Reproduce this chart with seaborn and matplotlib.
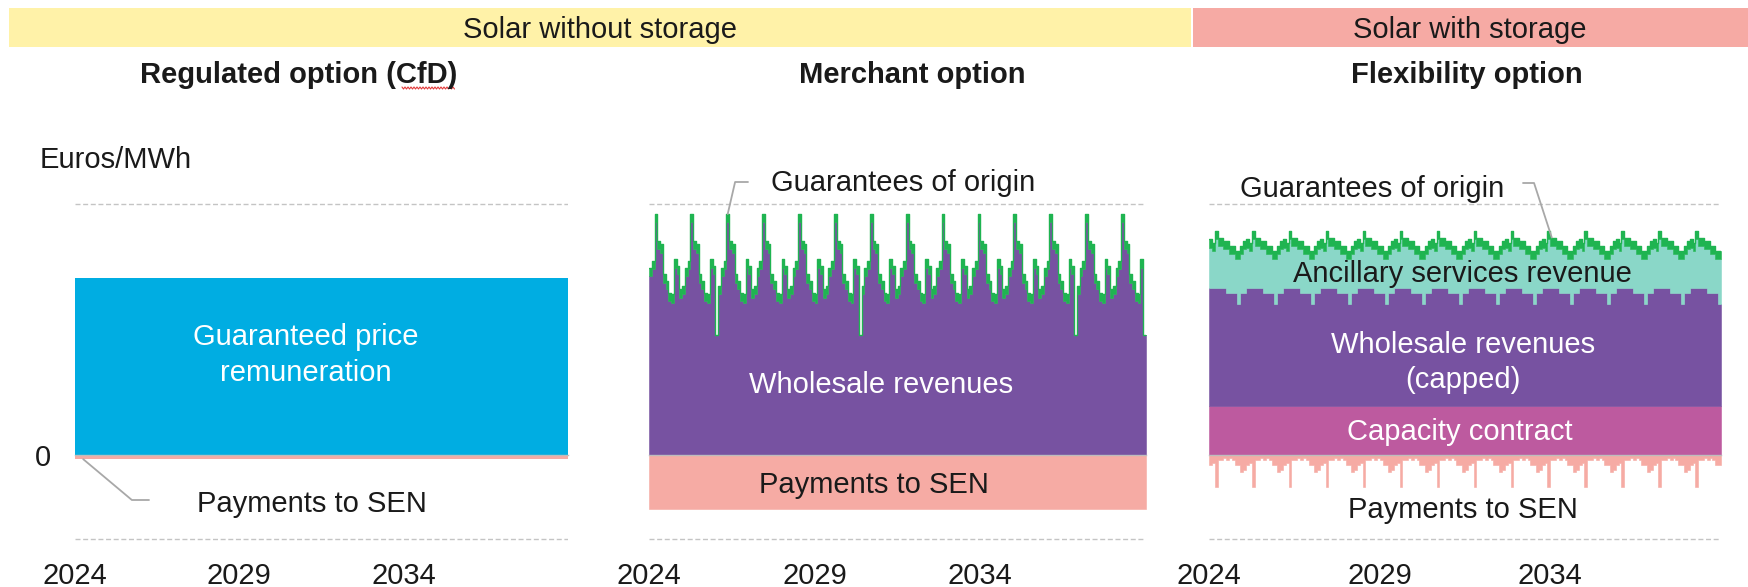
import numpy as np
import matplotlib
matplotlib.use("Agg")
import matplotlib.pyplot as plt
from matplotlib.lines import Line2D
from matplotlib.patches import Rectangle
import seaborn as sns

# ---------------------------------------------------------------- data
START_YEAR, END_YEAR = 2024, 2039
YEAR_TICKS = [2024, 2029, 2034]
YEAR_LABELS = ["2024", "2029", "2034"]

# Regulated option (CfD), Euros/MWh
CFD_GUARANTEED_PRICE = 106
CFD_PAYMENTS_SEN = -2.5

# Merchant option, monthly values (one line per 13-month cycle)
MERCHANT_WHOLESALE = [
    107, 111, 139, 123, 121, 103, 99, 92, 91, 112, 108, 94, 96,
    107, 111, 139, 123, 121, 103, 99, 92, 91, 112, 108, 72, 96,
    107, 111, 139, 123, 121, 103, 99, 92, 91, 112, 108, 94, 96,
    107, 111, 139, 123, 121, 103, 99, 92, 91, 112, 108, 94, 96,
    107, 111, 139, 123, 121, 103, 99, 92, 91, 112, 108, 94, 96,
    107, 111, 139, 123, 121, 103, 99, 92, 91, 112, 108, 72, 96,
    107, 111, 139, 123, 121, 103, 99, 92, 91, 112, 108, 94, 96,
    107, 111, 139, 123, 121, 103, 99, 92, 91, 112, 108, 94, 96,
    107, 111, 139, 123, 121, 103, 99, 92, 91, 112, 108, 94, 96,
    107, 111, 139, 123, 121, 103, 99, 92, 91, 112, 108, 94, 96,
    107, 111, 139, 123, 121, 103, 99, 92, 91, 112, 108, 94, 96,
    107, 111, 139, 123, 121, 103, 99, 92, 91, 112, 108, 72, 96,
    107, 111, 139, 123, 121, 103, 99, 92, 91, 112, 108, 94, 96,
    107, 111, 139, 123, 121, 103, 99, 92, 91, 112, 72,
]
MERCHANT_GO = [
    5, 5, 5, 5, 5, 5, 5, 5, 5, 5, 5, 5, 5,
    5, 5, 5, 5, 5, 5, 5, 5, 5, 5, 5, 0, 5,
    5, 5, 5, 5, 5, 5, 5, 5, 5, 5, 5, 5, 5,
    5, 5, 5, 5, 5, 5, 5, 5, 5, 5, 5, 5, 5,
    5, 5, 5, 5, 5, 5, 5, 5, 5, 5, 5, 5, 5,
    5, 5, 5, 5, 5, 5, 5, 5, 5, 5, 5, 0, 5,
    5, 5, 5, 5, 5, 5, 5, 5, 5, 5, 5, 5, 5,
    5, 5, 5, 5, 5, 5, 5, 5, 5, 5, 5, 5, 5,
    5, 5, 5, 5, 5, 5, 5, 5, 5, 5, 5, 5, 5,
    5, 5, 5, 5, 5, 5, 5, 5, 5, 5, 5, 5, 5,
    5, 5, 5, 5, 5, 5, 5, 5, 5, 5, 5, 5, 5,
    5, 5, 5, 5, 5, 5, 5, 5, 5, 5, 5, 0, 5,
    5, 5, 5, 5, 5, 5, 5, 5, 5, 5, 5, 5, 5,
    5, 5, 5, 5, 5, 5, 5, 5, 5, 5, 0,
]
MERCHANT_PAYMENTS_SEN = -32

# Flexibility option (solar with storage), monthly values
FLEX_CAPACITY = 29
FLEX_WHOLESALE_CAPPED = [
    71, 71, 71, 71, 71, 71, 68, 68, 68, 68, 61, 68, 68,
    71, 71, 71, 71, 71, 71, 68, 68, 68, 68, 61, 68, 68,
    71, 71, 71, 71, 71, 71, 68, 68, 68, 68, 61, 68, 68,
    71, 71, 71, 71, 71, 71, 68, 68, 68, 68, 61, 68, 68,
    71, 71, 71, 71, 71, 71, 68, 68, 68, 68, 61, 68, 68,
    71, 71, 71, 71, 71, 71, 68, 68, 68, 68, 61, 68, 68,
    71, 71, 71, 71, 71, 71, 68, 68, 68, 68, 61, 68, 68,
    71, 71, 71, 71, 71, 71, 68, 68, 68, 68, 61, 68, 68,
    71, 71, 71, 71, 71, 71, 68, 68, 68, 68, 61, 68, 68,
    71, 71, 71, 71, 71, 71, 68, 68, 68, 68, 61, 68, 68,
    71, 71, 71, 71, 71, 71, 68, 68, 68, 68, 61, 68, 68,
    71, 71, 71, 71, 71, 71, 68, 68, 68, 68, 61, 68, 68,
    71, 71, 71, 71, 71, 71, 68, 68, 68, 68, 61, 68, 68,
    71, 71, 71, 71, 71, 71, 68, 68, 68, 68, 61,
]
FLEX_ANCILLARY = [
    24, 22, 29, 25, 25, 23, 26, 23, 23, 20, 27, 23, 26,
    24, 22, 29, 25, 25, 23, 26, 23, 23, 20, 27, 23, 26,
    24, 22, 29, 25, 25, 23, 26, 23, 23, 20, 27, 23, 26,
    24, 22, 29, 25, 25, 23, 26, 23, 23, 20, 27, 23, 26,
    24, 22, 29, 25, 25, 23, 26, 23, 23, 20, 27, 23, 26,
    24, 22, 29, 25, 25, 23, 26, 23, 23, 20, 27, 23, 26,
    24, 22, 29, 25, 25, 23, 26, 23, 23, 20, 27, 23, 26,
    24, 22, 29, 25, 25, 23, 26, 23, 23, 20, 27, 23, 26,
    24, 22, 29, 25, 25, 23, 26, 23, 23, 20, 27, 23, 26,
    24, 22, 29, 25, 25, 23, 26, 23, 23, 20, 27, 23, 26,
    24, 22, 29, 25, 25, 23, 26, 23, 23, 20, 27, 23, 26,
    24, 22, 29, 25, 25, 23, 26, 23, 23, 20, 27, 23, 26,
    24, 22, 29, 25, 25, 23, 26, 23, 23, 20, 27, 23, 26,
    24, 22, 29, 25, 25, 23, 26, 23, 23, 20, 27,
]
FLEX_GO = 5
FLEX_PAYMENTS_SEN = [
    -6, -5, -19, -3, -3, -2, -3, -2, -3, -6, -6, -10, -9,
    -6, -5, -19, -3, -3, -2, -3, -2, -3, -6, -6, -10, -9,
    -6, -5, -19, -3, -3, -2, -3, -2, -3, -6, -6, -10, -9,
    -6, -5, -19, -3, -3, -2, -3, -2, -3, -6, -6, -10, -9,
    -6, -5, -19, -3, -3, -2, -3, -2, -3, -6, -6, -10, -9,
    -6, -5, -19, -3, -3, -2, -3, -2, -3, -6, -6, -10, -9,
    -6, -5, -19, -3, -3, -2, -3, -2, -3, -6, -6, -10, -9,
    -6, -5, -19, -3, -3, -2, -3, -2, -3, -6, -6, -10, -9,
    -6, -5, -19, -3, -3, -2, -3, -2, -3, -6, -6, -10, -9,
    -6, -5, -19, -3, -3, -2, -3, -2, -3, -6, -6, -10, -9,
    -6, -5, -19, -3, -3, -2, -3, -2, -3, -6, -6, -10, -9,
    -6, -5, -19, -3, -3, -2, -3, -2, -3, -6, -6, -10, -9,
    -6, -5, -19, -3, -3, -2, -3, -2, -3, -6, -6, -10, -9,
    -6, -5, -19, -3, -3, -2, -3, -2, -3, -6, -6,
]

# ---------------------------------------------------------------- style
C_YELLOW_BAND = "#FFF2A8"
C_PINK_BAND = "#F6AAA4"
C_BLUE = "#00ADE2"
C_PURPLE = "#7752A1"
C_GREEN = "#1FB451"
C_TEAL = "#8AD7C8"
C_MAGENTA = "#BD5A9F"
C_PINK = "#F6ABA4"
C_TEXT = "#1a1a1a"
C_GRID = "#c4c4c4"
C_AXIS = "#bdbdbd"
C_LEADER = "#a8a8a8"

sns.set_theme(style="white")
plt.rcParams["font.family"] = ["Liberation Sans", "DejaVu Sans"]
plt.rcParams["lines.scale_dashes"] = False

W, H, DPI = 1748, 587, 100
FS = 21

fig = plt.figure(figsize=(W / DPI, H / DPI), dpi=DPI)
fig.patch.set_facecolor("white")


def fpos(x, y):
    """Figure fraction from pixel position measured from the top-left."""
    return x / W, 1 - y / H


# value axis: 0 at pixel row 455, 1 unit = 1.673 px
Y_LO, Y_HI = -70, 170
ZERO_PX, UNIT_PX = 455, 1.673
ax_top = ZERO_PX - Y_HI * UNIT_PX
ax_bot = ZERO_PX - Y_LO * UNIT_PX
panels_px = [(75, 568), (649, 1146), (1209, 1721)]
axes = []
for x0, x1 in panels_px:
    ax = fig.add_axes([x0 / W, 1 - ax_bot / H, (x1 - x0) / W, (ax_bot - ax_top) / H])
    ax.set_facecolor("none")
    axes.append(ax)

n_months = len(MERCHANT_WHOLESALE)
x_edges = START_YEAR + np.arange(n_months + 1) / 12.0
x_mid = START_YEAR + (np.arange(n_months) + 0.5) / 12.0


def ext(a):
    a = np.asarray(a, dtype=float)
    return np.append(a, a[-1])


def band(ax, lo, hi, color, z=2):
    ax.fill_between(x_edges, ext(lo), ext(hi), step="post", color=color,
                    linewidth=0.4, edgecolor=color, zorder=z)


# ---- panel 1: regulated option
ax1 = axes[0]
ax1.fill_between([START_YEAR, END_YEAR], 0, CFD_GUARANTEED_PRICE, color=C_BLUE,
                 linewidth=0, zorder=2)
ax1.fill_between([START_YEAR, END_YEAR], CFD_PAYMENTS_SEN, 0, color=C_PINK,
                 linewidth=0, zorder=2)

# ---- panel 2: merchant option
ax2 = axes[1]
m_whole = np.asarray(MERCHANT_WHOLESALE, float)
m_go = np.asarray(MERCHANT_GO, float)
m_top = m_whole + m_go
zeros = np.zeros(n_months)
band(ax2, zeros, m_whole, C_PURPLE)
band(ax2, m_whole, m_top, C_GREEN, 3)
band(ax2, np.full(n_months, MERCHANT_PAYMENTS_SEN), zeros, C_PINK)
sns.lineplot(x=x_edges, y=ext(m_top), drawstyle="steps-post", color=C_GREEN,
             linewidth=1.0, ax=ax2, zorder=3)

# ---- panel 3: flexibility option
ax3 = axes[2]
f_cap = np.full(n_months, FLEX_CAPACITY, float)
f_whole_top = f_cap + np.asarray(FLEX_WHOLESALE_CAPPED, float)
f_anc_top = f_whole_top + np.asarray(FLEX_ANCILLARY, float)
f_top = f_anc_top + FLEX_GO
band(ax3, zeros, f_cap, C_MAGENTA)
band(ax3, f_cap, f_whole_top, C_PURPLE)
band(ax3, f_whole_top, f_anc_top, C_TEAL)
band(ax3, f_anc_top, f_top, C_GREEN, 3)
band(ax3, np.asarray(FLEX_PAYMENTS_SEN, float), zeros, C_PINK)
sns.lineplot(x=x_edges, y=ext(f_top), drawstyle="steps-post", color=C_GREEN,
             linewidth=1.0, ax=ax3, zorder=3)

# ---- common axis styling
for i, ax in enumerate(axes):
    ax.set_xlim(START_YEAR, END_YEAR)
    ax.set_ylim(Y_LO, Y_HI)
    for s in ("left", "right", "top"):
        ax.spines[s].set_visible(False)
    ax.spines["bottom"].set_position(("data", 0))
    ax.spines["bottom"].set_color(C_AXIS)
    ax.spines["bottom"].set_linewidth(1.0)
    ax.spines["bottom"].set_zorder(5)
    ax.set_xticks(YEAR_TICKS, YEAR_LABELS)
    ax.tick_params(axis="x", direction="out", length=6, width=1.0, color=C_AXIS,
                   pad=71, labelsize=FS, labelcolor=C_TEXT)
    if i == 0:
        ax.set_yticks([-50, 0, 150], ["", "0", ""])
    else:
        ax.set_yticks([-50, 150], ["", ""])
    ax.tick_params(axis="y", length=0, pad=17, labelsize=FS, labelcolor=C_TEXT)
    ax.yaxis.grid(True, color=C_GRID, linestyle=(0, (3.6, 1.9)), linewidth=1.0)
    ax.xaxis.grid(False)
    ax.set_axisbelow(True)
    ax.set_xlabel("")
    ax.set_ylabel("")
    if i == 0:
        ax.yaxis.get_gridlines()[1].set_visible(False)

# ---------------------------------------------------------------- header bands
fig.add_artist(Rectangle(fpos(9, 47), (1191 - 9) / W, 39 / H, transform=fig.transFigure,
                         facecolor=C_YELLOW_BAND, edgecolor="none", zorder=0))
fig.add_artist(Rectangle(fpos(1193, 47), (W - 1193) / W, 39 / H, transform=fig.transFigure,
                         facecolor=C_PINK_BAND, edgecolor="none", zorder=0))
fig.text(*fpos(600, 38), "Solar without storage", ha="center", va="baseline",
         fontsize=FS, color=C_TEXT)
fig.text(*fpos(1470, 38), "Solar with storage", ha="center", va="baseline",
         fontsize=FS, color=C_TEXT)

# panel titles
fig.text(*fpos(299, 83), "Regulated option (CfD)", ha="center", va="baseline",
         fontsize=FS, fontweight="bold", color=C_TEXT)
fig.text(*fpos(912, 83), "Merchant option", ha="center", va="baseline",
         fontsize=FS, fontweight="bold", color=C_TEXT)
fig.text(*fpos(1467, 83), "Flexibility option", ha="center", va="baseline",
         fontsize=FS, fontweight="bold", color=C_TEXT)
# proofing squiggle under "CfD"
sq_x = np.arange(402, 456, 1.5)
sq_y = 88 + np.where(np.arange(len(sq_x)) % 2 == 0, -1.0, 1.0)
fig.add_artist(Line2D(sq_x / W, 1 - sq_y / H, transform=fig.transFigure,
                      color="#e23b3b", linewidth=0.8))

fig.text(*fpos(40, 168), "Euros/MWh", ha="left", va="baseline", fontsize=FS, color=C_TEXT)

# ---------------------------------------------------------------- series labels
def label(x, y, s, color=C_TEXT):
    fig.text(*fpos(x, y), s, ha="center", va="baseline", fontsize=FS, color=color)


label(306, 345, "Guaranteed price", "white")
label(306, 381, "remuneration", "white")
label(312, 512, "Payments to SEN")

label(881, 393, "Wholesale revenues", "white")
label(903, 191, "Guarantees of origin")
label(874, 493, "Payments to SEN")

label(1372, 197, "Guarantees of origin")
label(1462, 282, "Ancillary services revenue")
label(1463, 353, "Wholesale revenues", "white")
label(1463, 388, "(capped)", "white")
label(1460, 440, "Capacity contract", "white")
label(1463, 518, "Payments to SEN")

# ---------------------------------------------------------------- leader lines
leader = dict(arrowstyle="-", color=C_LEADER, lw=1.3, shrinkA=0, shrinkB=0)
ax1.annotate("", xy=(x_edges[3], CFD_PAYMENTS_SEN), xycoords="data",
             xytext=(149, H - 500), textcoords="figure pixels",
             arrowprops=dict(leader, connectionstyle="angle,angleA=0,angleB=-40,rad=0"))
ax2.annotate("", xy=(x_mid[28], m_top[28]), xycoords="data",
             xytext=(748, H - 182), textcoords="figure pixels",
             arrowprops=dict(leader, connectionstyle="angle,angleA=0,angleB=77,rad=0"))
ax3.annotate("", xy=(x_mid[120], f_top[120]), xycoords="data",
             xytext=(1523, H - 183), textcoords="figure pixels",
             arrowprops=dict(leader, connectionstyle="angle,angleA=0,angleB=108,rad=0"))

fig.savefig("out.png", dpi=DPI, facecolor="white")
